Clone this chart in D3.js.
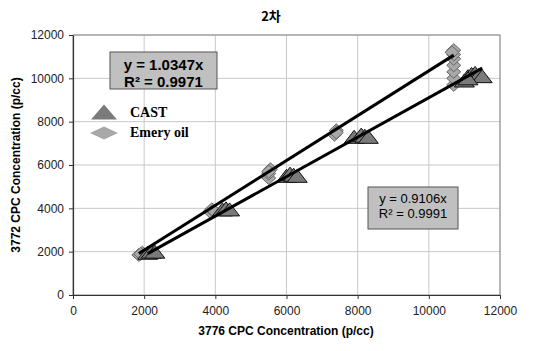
<!DOCTYPE html>
<html><head><meta charset="utf-8">
<script src="https://cdn.jsdelivr.net/npm/d3@7"></script>
<style>body{margin:0;background:#fff}</style>
</head><body>
<svg id="c" width="542" height="351"></svg>
<script>
const title = "2차";
const xLabel = "3776 CPC Concentration (p/cc)";
const yLabel = "3772 CPC Concentration (p/cc)";
const ticks = [0,2000,4000,6000,8000,10000,12000];
const seriesNames = ["CAST","Emery oil"];
const castX = [2100,2200,2300,4200,4300,4400,6000,6100,6200,6300,7900,8100,8200,8300,11000,11100,11200,11300,11400,11500,11100];
const castY = [1950,2000,2000,3950,4000,3950,5500,5600,5550,5500,7300,7400,7350,7300,9900,10100,10200,10250,10150,10100,10000];
const emeryX = [1850,1950,1900,3850,3900,3950,5500,5500,5550,5500,7350,7400,7400,10700,10700,10700,10700,10700,10700,10700,10650];
const emeryY = [1850,1950,1900,3850,3950,3900,5400,5600,5800,5700,7400,7600,7500,9700,10000,10300,10600,10900,11100,11300,11200];
const slopes = [0.9106, 1.0347];
const eqLabels = [["y = 0.9106x","R² = 0.9991"],["y = 1.0347x","R² = 0.9971"]];

const svg = d3.select("#c");
const x = d3.scaleLinear().domain([0,12000]).range([73,500]);
const y = d3.scaleLinear().domain([0,12000]).range([295,35]);

// grid
svg.append("g").selectAll("line.gx").data(ticks.slice(1)).join("line")
  .attr("x1",d=>x(d)).attr("x2",d=>x(d)).attr("y1",y(0)).attr("y2",y(12000))
  .attr("stroke","#c8c8c8").attr("stroke-width",1);
svg.append("g").selectAll("line.gy").data(ticks.slice(1)).join("line")
  .attr("x1",x(0)).attr("x2",x(12000)).attr("y1",d=>y(d)).attr("y2",d=>y(d))
  .attr("stroke","#c8c8c8").attr("stroke-width",1);
// border top/right
svg.append("rect").attr("x",x(0)).attr("y",y(12000)).attr("width",x(12000)-x(0)).attr("height",y(0)-y(12000))
  .attr("fill","none").attr("stroke","#888").attr("stroke-width",1);

const xa = svg.append("g").attr("transform",`translate(0,${y(0)})`)
  .call(d3.axisBottom(x).tickValues(ticks).tickFormat(d3.format("d")).tickSizeInner(4).tickSizeOuter(0));
const ya = svg.append("g").attr("transform",`translate(${x(0)},0)`)
  .call(d3.axisLeft(y).tickValues(ticks).tickFormat(d3.format("d")).tickSizeInner(4).tickSizeOuter(0));
[xa,ya].forEach(a=>{
  a.selectAll("path").attr("stroke","#333").attr("stroke-width",1.2);
  a.selectAll("line").attr("stroke","#333");
  a.selectAll("text").attr("font-family","Arial, Liberation Sans, sans-serif").attr("font-size",12).attr("fill","#222");
});
xa.selectAll("text").attr("dy","1.05em");
ya.selectAll("text").attr("dx","-2");

// title + labels
svg.append("text").attr("x",271).attr("y",21).attr("text-anchor","middle")
  .attr("font-family","Noto Sans CJK KR, Arial, sans-serif").attr("font-weight","bold").attr("font-size",13).text(title);
svg.append("text").attr("x",286).attr("y",335).attr("text-anchor","middle")
  .attr("font-family","Arial, Liberation Sans, sans-serif").attr("font-weight","bold").attr("font-size",12).text(xLabel);
svg.append("text").attr("transform","translate(20,165) rotate(-90)").attr("text-anchor","middle")
  .attr("font-family","Arial, Liberation Sans, sans-serif").attr("font-weight","bold").attr("font-size",12).text(yLabel);

const tri = (cx,cy,w,h)=>`M${cx-w/2},${cy+h/2}L${cx},${cy-h/2}L${cx+w/2},${cy+h/2}Z`;
const dia = (cx,cy,w,h)=>`M${cx-w/2},${cy}L${cx},${cy-h/2}L${cx+w/2},${cy}L${cx},${cy+h/2}Z`;

const emery = emeryX.map((v,i)=>[v,emeryY[i]]);
const cast = castX.map((v,i)=>[v,castY[i]]);

svg.append("g").selectAll("path").data(emery).join("path")
  .attr("d",d=>dia(x(d[0]),y(d[1]),14,13)).attr("fill","#a8a8a8").attr("stroke","#666").attr("stroke-width",1);
svg.append("g").selectAll("path").data(cast).join("path")
  .attr("d",d=>tri(x(d[0]),y(d[1]),20,13)).attr("fill","#7a7a7a").attr("stroke","#111").attr("stroke-width",1);

// trendlines
[[castX,slopes[0]],[emeryX,slopes[1]]].forEach(([xs,m])=>{
  const x0 = d3.min(xs), x1 = d3.max(xs);
  svg.append("line").attr("x1",x(x0)).attr("y1",y(m*x0)).attr("x2",x(x1)).attr("y2",y(m*x1))
    .attr("stroke","#000").attr("stroke-width",3);
});

// equation boxes
function eqBox(bx,by,w,h,lines,fs,bold){
  svg.append("rect").attr("x",bx).attr("y",by).attr("width",w).attr("height",h)
    .attr("fill","#c0c0c0").attr("stroke","#555").attr("stroke-width",1);
  lines.forEach((t,i)=>svg.append("text").attr("x",bx+w/2).attr("y",by+fs+3+i*(fs+2))
    .attr("text-anchor","middle").attr("font-family","Arial, Liberation Sans, sans-serif")
    .attr("font-size",fs).attr("font-weight",bold?"bold":"normal").text(t));
}
eqBox(110,52,107,37,eqLabels[1],15,true);
eqBox(368,187,90,42,eqLabels[0],13,false);

// legend
svg.append("path").attr("d",tri(104,112,26,15)).attr("fill","#7a7a7a");
svg.append("path").attr("d",dia(104,133,28,13)).attr("fill","#a8a8a8");
svg.append("text").attr("x",130).attr("y",117).attr("font-family","Liberation Serif, Times New Roman, serif")
  .attr("font-weight","bold").attr("font-size",14).text(seriesNames[0]);
svg.append("text").attr("x",130).attr("y",137).attr("font-family","Liberation Serif, Times New Roman, serif")
  .attr("font-weight","bold").attr("font-size",14).text(seriesNames[1]);
</script>
</body></html>
